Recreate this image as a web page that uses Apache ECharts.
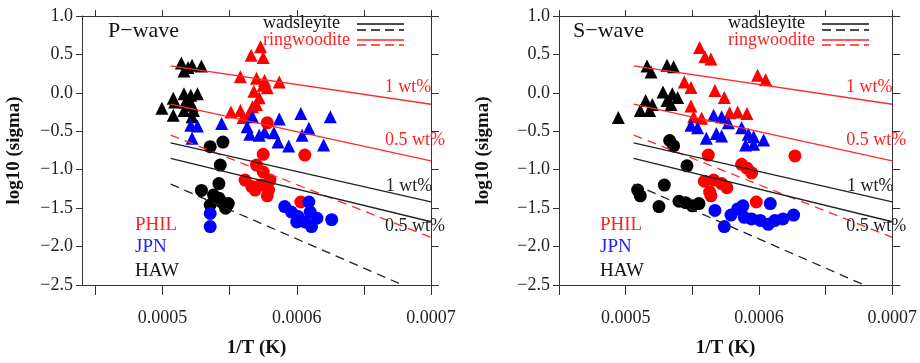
<!DOCTYPE html>
<html>
<head>
<meta charset="utf-8">
<script src="https://cdn.jsdelivr.net/npm/echarts@6/dist/echarts.min.js"></script>
<style>
  html, body { margin: 0; padding: 0; background: #fff; }
  #chart { width: 920px; height: 363px; }
</style>
</head>
<body>
<div id="chart"></div>
<script>
// axis ticks
const xTicks = [0.00045, 0.0005, 0.00055, 0.0006, 0.00065, 0.0007];
const xLabels = [0.0005, 0.0006, 0.0007];

// model lines (1/T, log10 sigma)
const wadsley1 = [[0.000506, -0.65], [0.0007, -1.417]];
const wadsley05 = [[0.000506, -0.854], [0.0007, -1.677]];
const wadsleyDash = [[0.000506, -1.187], [0.000679, -2.5]];
const ringwood1 = [[0.000506, 0.35], [0.0007, -0.148]];
const ringwood05 = [[0.000506, -0.148], [0.0007, -0.884]];
const ringwoodDash = [[0.000506, -0.55], [0.0007, -1.88]];

// P-wave
const pHawTri = [[0.000514, 0.39], [0.000522, 0.36], [0.000529, 0.35], [0.000516, 0.285], [0.000519, 0.33],
  [0.000516, -0.01], [0.000521, -0.03], [0.000526, -0.01], [0.000508, -0.07], [0.000509, -0.12],
  [0.000517, -0.12], [0.000522, -0.16], [0.0004995, -0.20], [0.000508, -0.29], [0.000516, -0.23],
  [0.000523, -0.23], [0.000522, -0.31], [0.000518, -0.10]];
const pPhilTri = [[0.000573, 0.60], [0.000566, 0.49], [0.000575, 0.46], [0.000558, 0.21], [0.00057, 0.19],
  [0.000576, 0.16], [0.000575, 0.10], [0.000587, 0.14], [0.000578, 0.065], [0.000568, 0.02],
  [0.000572, -0.065], [0.000567, -0.18], [0.000551, -0.25], [0.000558, -0.23], [0.000564, -0.29],
  [0.00057, -0.15], [0.00056, -0.32]];
const pJpnTri = [[0.000521, -0.42], [0.000526, -0.43], [0.000522, -0.59], [0.000544, -0.40], [0.000567, -0.31],
  [0.000563, -0.44], [0.000565, -0.54], [0.000572, -0.55], [0.000576, -0.51], [0.000583, -0.52],
  [0.000587, -0.34], [0.000586, -0.64], [0.000594, -0.69], [0.000603, -0.27], [0.000609, -0.46],
  [0.000604, -0.55], [0.00062, -0.68], [0.000625, -0.31]];
const pHawCirc = [[0.0005355, -0.70], [0.000545, -0.64], [0.000543, -0.94], [0.000542, -1.18], [0.000529, -1.27],
  [0.000538, -1.33], [0.0005355, -1.46], [0.000544, -1.42], [0.000549, -1.44], [0.000547, -1.50], [0.000542, -1.37]];
const pPhilCirc = [[0.000578, -0.39], [0.000575, -0.80], [0.000606, -0.81], [0.00057, -0.94], [0.000575, -1.03],
  [0.00058, -1.135], [0.0005615, -1.135], [0.0005665, -1.22], [0.000573, -1.20], [0.000579, -1.265],
  [0.000569, -1.265], [0.000578, -1.34], [0.000603, -1.42]];
const pJpnCirc = [[0.0005355, -1.57], [0.0005355, -1.74], [0.000591, -1.48], [0.000596, -1.55], [0.000601, -1.61],
  [0.000609, -1.42], [0.00061, -1.55], [0.000615, -1.63], [0.000606, -1.68], [0.000611, -1.74],
  [0.000626, -1.65], [0.0006, -1.68]];

// S-wave
const sHawTri = [[0.0004945, -0.32], [0.000516, 0.35], [0.000519, 0.27], [0.000531, 0.36], [0.000536, 0.34],
  [0.000515, -0.10], [0.00052, -0.15], [0.000511, -0.23], [0.000518, -0.23], [0.000528, 0.01],
  [0.000535, -0.01], [0.000531, -0.10], [0.000539, -0.06], [0.000534, -0.15]];
const sPhilTri = [[0.0005555, 0.59], [0.0005595, 0.47], [0.000564, 0.44], [0.000544, 0.14], [0.000549, 0.07],
  [0.000567, 0.03], [0.000574, -0.06], [0.000549, -0.17], [0.000551, -0.31], [0.000557, -0.33],
  [0.000578, -0.26], [0.000584, -0.25], [0.000591, -0.27], [0.000599, 0.23], [0.000605, 0.17]];
const sJpnTri = [[0.000549, -0.42], [0.000554, -0.455], [0.0005605, -0.59], [0.000566, -0.29], [0.000572, -0.31],
  [0.000577, -0.39], [0.000568, -0.53], [0.000572, -0.56], [0.000587, -0.455], [0.000592, -0.54],
  [0.000596, -0.57], [0.00059, -0.68], [0.000596, -0.67], [0.0006035, -0.615]];
const sHawCirc = [[0.000533, -0.62], [0.000536, -0.69], [0.000546, -0.95], [0.000529, -1.20], [0.000509, -1.265],
  [0.000511, -1.34], [0.000525, -1.48], [0.00054, -1.41], [0.000545, -1.43], [0.00055, -1.47], [0.000555, -1.44]];
const sPhilCirc = [[0.000562, -0.81], [0.000587, -0.93], [0.000591, -0.98], [0.0005945, -1.04], [0.000559, -1.15],
  [0.000566, -1.135], [0.000572, -1.18], [0.000576, -1.235], [0.000563, -1.29], [0.000564, -1.34],
  [0.000598, -1.42], [0.000627, -0.82]];
const sJpnCirc = [[0.000567, -1.53], [0.000574, -1.74], [0.000579, -1.59], [0.000584, -1.51], [0.000588, -1.47],
  [0.000589, -1.62], [0.0005945, -1.64], [0.0006085, -1.44], [0.000607, -1.71], [0.000612, -1.66],
  [0.000618, -1.64], [0.000626, -1.59], [0.000601, -1.66]];

const SERIF = '"Liberation Serif", "DejaVu Serif", serif';
const RED = '#ff0000', BLUE = '#0000ff', BLACK = '#000000';
const AX = '#333';

const chart = echarts.init(document.getElementById('chart'));

function fmtY(v) {
  return v < 0 ? '\u2212' + Math.abs(v).toFixed(1) : v.toFixed(1);
}

function xPair(gi, min) {
  const base = { gridIndex: gi, type: 'value', min: min, max: 0.0007, splitLine: { show: false },
    axisLine: { onZero: false, lineStyle: { color: AX } } };
  return [
    Object.assign({}, base, {
      position: 'bottom', name: '1/T (K)', nameLocation: 'middle', nameGap: 54,
      nameTextStyle: { fontFamily: SERIF, fontWeight: 'bold', fontSize: 19, color: '#111' },
      axisTick: { customValues: xTicks, length: 10, lineStyle: { color: AX } },
      axisLabel: { customValues: xLabels, formatter: v => v.toFixed(4), margin: 24,
        fontFamily: SERIF, fontSize: 18, color: '#222' }
    }),
    Object.assign({}, base, {
      position: 'top',
      axisTick: { customValues: xTicks, length: 6, lineStyle: { color: AX } },
      axisLabel: { show: false }
    })
  ];
}

function yPair(gi, gap) {
  const base = { gridIndex: gi, type: 'value', min: -2.5, max: 1.0, interval: 0.5, splitLine: { show: false },
    axisLine: { onZero: false, lineStyle: { color: AX } } };
  return [
    Object.assign({}, base, {
      position: 'left', name: 'log10 (sigma)', nameLocation: 'middle', nameGap: gap,
      nameTextStyle: { fontFamily: SERIF, fontWeight: 'bold', fontSize: 19, color: '#111' },
      axisTick: { length: 6, lineStyle: { color: AX } },
      axisLabel: { formatter: fmtY, margin: 9, fontFamily: SERIF, fontSize: 18, color: '#222' }
    }),
    Object.assign({}, base, {
      position: 'right',
      axisTick: { length: 8, lineStyle: { color: AX } },
      axisLabel: { show: false }
    })
  ];
}

function modelLine(pts, ax, color, dashed, text, offset) {
  const data = pts.map((p, i) => {
    if (i < pts.length - 1 || !text) return p;
    return { value: p, label: { show: true, position: 'inside', offset: offset, formatter: text,
      fontFamily: SERIF, fontSize: 18, color: color === RED ? '#ff2222' : '#222' } };
  });
  return { type: 'line', xAxisIndex: ax, yAxisIndex: ax, data: data, symbol: 'circle', symbolSize: 0,
    showSymbol: true, label: { show: false }, z: 5, silent: true,
    lineStyle: { color: color === RED ? '#ff2a2a' : '#222', width: 1.3, type: dashed ? [9, 6] : 'solid' } };
}

function dots(pts, ax, shape, color) {
  return { type: 'scatter', xAxisIndex: ax, yAxisIndex: ax, data: pts, symbol: shape,
    symbolSize: 13, itemStyle: { color: color, opacity: 1 }, z: 3 };
}

function panelSeries(ax, tri, circ) {
  return [
    dots(tri[0], ax, 'triangle', BLACK), dots(tri[1], ax, 'triangle', RED), dots(tri[2], ax, 'triangle', BLUE),
    dots(circ[0], ax, 'circle', BLACK), dots(circ[1], ax, 'circle', RED), dots(circ[2], ax, 'circle', BLUE),
    modelLine(ringwood1, ax, RED, false, '1 wt%', [-23, -17]),
    modelLine(ringwood05, ax, RED, false, '0.5 wt%', [-16, -21]),
    modelLine(ringwoodDash, ax, RED, true, null, null),
    modelLine(wadsley1, ax, BLACK, false, '1 wt%', [-22, -15]),
    modelLine(wadsley05, ax, BLACK, false, '0.5 wt%', [-16, 5]),
    modelLine(wadsleyDash, ax, BLACK, true, null, null)
  ];
}

function txt(x, y, s, color, size) {
  return { type: 'text', left: x, top: y - size * 0.6, silent: true,
    style: { text: s, fill: color, font: size + 'px ' + SERIF } };
}
function seg(x1, x2, y, color, dashed) {
  return { type: 'line', silent: true, shape: { x1: x1, y1: y, x2: x2, y2: y },
    style: { stroke: color, lineWidth: 1.5, lineDash: dashed ? [9, 5] : null } };
}
function panelDecor(title, tx, lx, sx) {
  return [
    txt(tx, 33, title, '#111', 22),
    txt(lx, 25, 'wadsleyite', '#111', 18),
    txt(lx, 42, 'ringwoodite', '#ff2222', 18),
    seg(sx, sx + 47, 24, '#111', false), seg(sx, sx + 47, 30, '#111', true),
    seg(sx, sx + 47, 40, '#ff2222', false), seg(sx, sx + 47, 45, '#ff2222', true),
    txt(tx + 27, 227, 'PHIL', '#ff2222', 19),
    txt(tx + 27, 249, 'JPN', '#2222ff', 19),
    txt(tx + 27, 273, 'HAW', '#111', 19)
  ];
}

const option = {
  animation: false,
  backgroundColor: '#fff',
  grid: [
    { left: 82, top: 16, width: 349, height: 269 },
    { left: 559, top: 16, width: 337, height: 269 }
  ],
  xAxis: [].concat(xPair(0, 0.00044), xPair(1, 0.00045)),
  yAxis: [].concat(yPair(0, 58), yPair(1, 66)),
  series: [].concat(
    panelSeries(0, [pHawTri, pPhilTri, pJpnTri], [pHawCirc, pPhilCirc, pJpnCirc]),
    panelSeries(2, [sHawTri, sPhilTri, sJpnTri], [sHawCirc, sPhilCirc, sJpnCirc])
  ),
  graphic: [].concat(
    panelDecor('P\u2212wave', 108, 263, 357),
    panelDecor('S\u2212wave', 573, 728, 822)
  )
};

chart.setOption(option);
</script>
</body>
</html>
